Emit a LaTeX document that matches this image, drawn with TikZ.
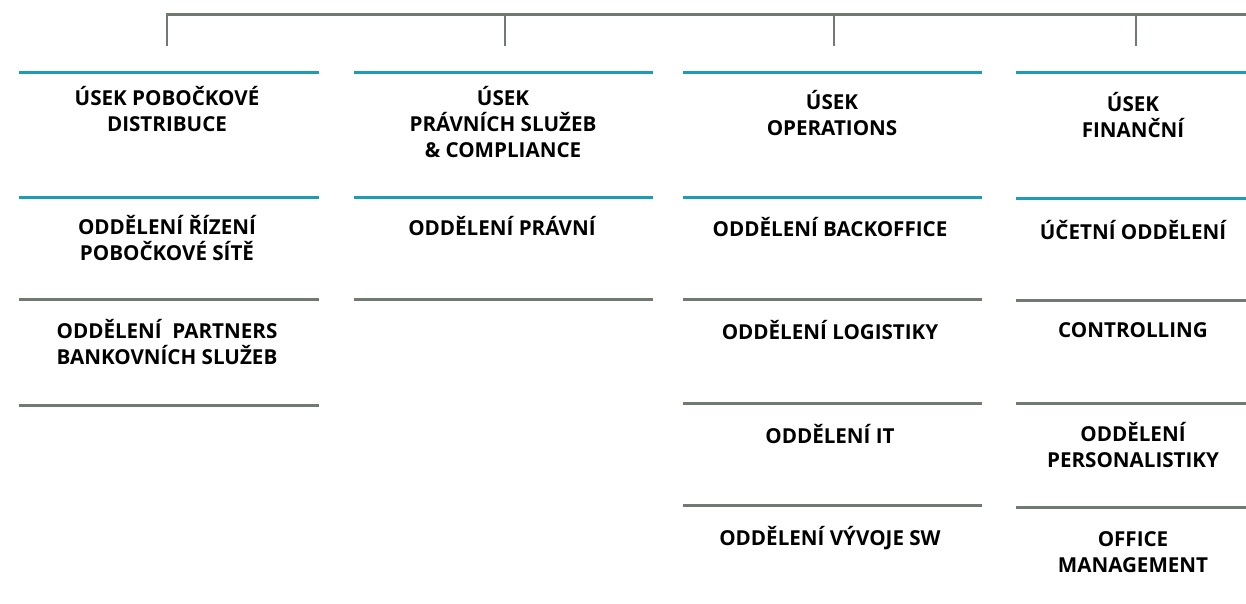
\documentclass[tikz,border=0pt]{standalone}
\usepackage{fontspec}
\setmainfont{Open Sans}
\definecolor{teal1}{HTML}{1C9DB5}
\definecolor{grayl}{HTML}{707A72}
\begin{document}
\begin{tikzpicture}[x=1pt,y=-1pt,
  lbl/.style={anchor=base,inner sep=0pt,align=center,font=\fontsize{20.6}{25.8}\selectfont\bfseries,text=black},
  tline/.style={draw=teal1,line width=3pt},
  gline/.style={draw=grayl,line width=3pt},
  bracket/.style={draw=grayl,line width=2.6pt,line join=miter},
  drop/.style={draw=grayl,line width=2pt}]
\useasboundingbox (0,0) rectangle (1246,603);
% top bracket
\coordinate (t2) at (505,14.5);
\coordinate (t3) at (834,14.5);
\coordinate (t4) at (1136,14.5);
\coordinate (tend) at (1246,14.5);
\coordinate (d1) at (167,46);
\coordinate (d2) at (505,46);
\coordinate (d3) at (834,46);
\coordinate (d4) at (1136,46);
\draw[bracket] (d1) |- (tend);
\draw[drop] (t2) -- (d2);
\draw[drop] (t3) -- (d3);
\draw[drop] (t4) -- (d4);
% column 1
\draw[tline] (19,72) -- (319,72);
\draw[tline] (19,197) -- (319,197);
\draw[gline] (19,299) -- (319,299);
\draw[gline] (19,405) -- (319,405);
\node[lbl] (h1) at (167,131) {ÚSEK POBOČKOVÉ\\DISTRIBUCE};
\node[lbl] (a1) at (167,260) {ODDĚLENÍ ŘÍZENÍ\\POBOČKOVÉ SÍTĚ};
\node[lbl] (a2) at (167,364) {ODDĚLENÍ\ \ PARTNERS\\BANKOVNÍCH SLUŽEB};
% column 2
\draw[tline] (354,72) -- (653,72);
\draw[tline] (354,197) -- (653,197);
\draw[gline] (354,299) -- (653,299);
\node[lbl] (h2) at (503,157) {ÚSEK\\PRÁVNÍCH SLUŽEB\\\&~COMPLIANCE};
\node[lbl] (b1) at (502,235) {ODDĚLENÍ PRÁVNÍ};
% column 3
\draw[tline] (683,72) -- (982,72);
\draw[tline] (683,197) -- (982,197);
\draw[gline] (683,299) -- (982,299);
\draw[gline] (683,403) -- (982,403);
\draw[gline] (683,505) -- (982,505);
\node[lbl] (h3) at (832,135) {ÚSEK\\OPERATIONS};
\node[lbl] (c1) at (830,236) {ODDĚLENÍ BACKOFFICE};
\node[lbl] (c2) at (830,339) {ODDĚLENÍ LOGISTIKY};
\node[lbl] (c3) at (830,443) {ODDĚLENÍ IT};
\node[lbl] (c4) at (830,545) {ODDĚLENÍ VÝVOJE SW};
% column 4
\draw[tline] (1016,72) -- (1246,72);
\draw[tline] (1016,198) -- (1246,198);
\draw[gline] (1016,300) -- (1246,300);
\draw[gline] (1016,403) -- (1246,403);
\draw[gline] (1016,507) -- (1246,507);
\node[lbl] (h4) at (1133,137) {ÚSEK\\FINANČNÍ};
\node[lbl] (e1) at (1133,239) {ÚČETNÍ ODDĚLENÍ};
\node[lbl] (e2) at (1133,337) {CONTROLLING};
\node[lbl] (e3) at (1133,467) {ODDĚLENÍ\\PERSONALISTIKY};
\node[lbl] (e4) at (1133,572) {OFFICE\\MANAGEMENT};
\end{tikzpicture}
\end{document}
